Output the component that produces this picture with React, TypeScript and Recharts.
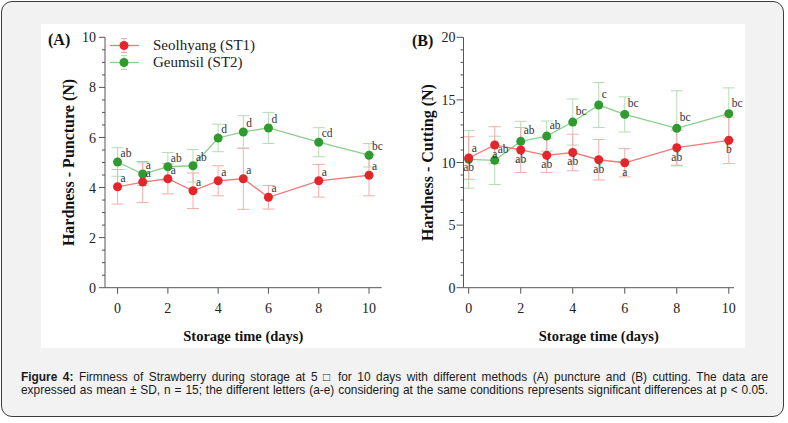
import React from 'react';
import { LineChart, Line, XAxis, YAxis, ErrorBar, LabelList, Legend, Label } from 'recharts';

// ---------- data ----------
const days = [0, 1, 2, 3, 4, 5, 6, 8, 10];
const dayTicks = [0, 2, 4, 6, 8, 10];

const seriesNames = ['Seolhyang (ST1)', 'Geumsil (ST2)'];

const punctureST1 = [4.03, 4.22, 4.35, 3.87, 4.27, 4.35, 3.61, 4.27, 4.49];
const punctureST1Sd = [0.69, 0.82, 0.6, 0.71, 0.6, 1.22, 0.47, 0.65, 0.82];
const punctureST1Letters = ['a', 'a', 'a', 'a', 'a', 'a', 'a', 'a', 'a'];
const punctureST2 = [5.02, 4.54, 4.83, 4.87, 5.98, 6.22, 6.38, 5.81, 5.29];
const punctureST2Sd = [0.57, 0.45, 0.57, 0.65, 0.55, 0.65, 0.62, 0.58, 0.47];
const punctureST2Letters = ['ab', 'a', 'ab', 'ab', 'd', 'd', 'd', 'cd', 'bc'];

const cuttingST1 = [10.36, 11.4, 11.0, 10.57, 10.8, 10.22, 9.98, 11.18, 11.77];
const cuttingST1Sd = [1.7, 1.46, 1.8, 1.37, 1.46, 1.62, 1.13, 1.4, 1.86];
const cuttingST1Letters = ['ab', 'a', 'ab', 'ab', 'ab', 'ab', 'a', 'ab', 'b'];
const cuttingST2 = [10.25, 10.17, 11.69, 12.11, 13.23, 14.59, 13.84, 12.73, 13.9];
const cuttingST2Sd = [2.3, 1.93, 1.6, 1.2, 1.84, 1.8, 1.4, 3.0, 2.06];
const cuttingST2Letters = ['a', 'ab', 'ab', 'ab', 'bc', 'c', 'bc', 'bc', 'bc'];

const punctureYTicks = [0, 0.5, 1, 1.5, 2, 2.5, 3, 3.5, 4, 4.5, 5, 5.5, 6, 6.5, 7, 7.5, 8, 8.5, 9, 9.5, 10];
const punctureYMajor = [0, 2, 4, 6, 8, 10];
const cuttingYTicks = [0, 1, 2, 3, 4, 5, 6, 7, 8, 9, 10, 11, 12, 13, 14, 15, 16, 17, 18, 19, 20];
const cuttingYMajor = [0, 5, 10, 15, 20];

const captionBold = 'Figure 4:';
const captionLine1 =
  ' Firmness of Strawberry during storage at 5 \u25A1 for 10 days with different methods (A) puncture and (B) cutting. The data are';
const captionLine2 =
  'expressed as mean \u00B1 SD, n = 15; the different letters (a-e) considering at the same conditions represents significant differences at p < 0.05.';

// ---------- styles ----------
const SERIF = '"Liberation Serif", "Times New Roman", serif';
const SANS = '"Liberation Sans", Arial, sans-serif';
const AXIS = '#555555';
const RED = '#e3262c';
const RED_LINE = '#f07a7a';
const RED_ERR = '#f4adad';
const GREEN = '#2f9a2f';
const GREEN_LINE = '#8ccf8c';
const GREEN_ERR = '#b3ddb3';

const buildRows = (
  a: number[], aSd: number[], aLab: string[],
  b: number[], bSd: number[], bLab: string[]
) =>
  days.map((day, i) => ({
    day,
    st1: a[i], st1Sd: aSd[i], st1Lab: aLab[i],
    st2: b[i], st2Sd: bSd[i], st2Lab: bLab[i],
  }));

const punctureRows = buildRows(
  punctureST1, punctureST1Sd, punctureST1Letters,
  punctureST2, punctureST2Sd, punctureST2Letters
);
const cuttingRows = buildRows(
  cuttingST1, cuttingST1Sd, cuttingST1Letters,
  cuttingST2, cuttingST2Sd, cuttingST2Letters
);

const makeYTick = (majors: number[], size: number, margin: number) => (props: any) => {
  const { x, y, payload } = props;
  const axisX = x + size + margin;
  const isMajor = majors.includes(payload.value);
  return (
    <g>
      <line x1={axisX} x2={axisX - (isMajor ? size : 3)} y1={y} y2={y} stroke={AXIS} strokeWidth={1} />
      {isMajor && (
        <text x={x} y={y} dy="0.36em" textAnchor="end" style={{ fontFamily: SERIF, fontSize: 14 }} fill="#222">
          {payload.value}
        </text>
      )}
    </g>
  );
};

const XTick = (props: any) => {
  const { x, y, payload } = props;
  return (
    <text x={x} y={y} dy="0.71em" textAnchor="middle" style={{ fontFamily: SERIF, fontSize: 14 }} fill="#222">
      {payload.value}
    </text>
  );
};

const pos = (props: any) => {
  const x = props.x ?? props.viewBox?.x;
  const y = props.y ?? props.viewBox?.y;
  return { x, y };
};

const letterStyle = { fontFamily: SERIF, fontSize: 11.5 };

const aboveRight = (dx: number, dy: number) => (props: any) => {
  const { x, y } = pos(props);
  return (
    <text x={x + dx} y={y + dy} style={letterStyle} fill="#333">
      {props.value}
    </text>
  );
};

const belowCenter = (props: any) => {
  const { x, y } = pos(props);
  return (
    <text x={x} y={y + 13} textAnchor="middle" style={letterStyle} fill="#333">
      {props.value}
    </text>
  );
};

const yTitle = (text: string, cx: number) => (props: any) => {
  const vb = props.viewBox;
  const x = vb.x + cx;
  const y = vb.y + vb.height / 2;
  return (
    <text
      x={x}
      y={y}
      dy="0.35em"
      textAnchor="middle"
      transform={`rotate(-90 ${x} ${y})`}
      style={{ fontFamily: SERIF, fontSize: 16, fontWeight: 'bold' }}
      fill="#111"
    >
      {text}
    </text>
  );
};

const xTitle = (text: string) => (props: any) => {
  const vb = props.viewBox;
  return (
    <text
      x={vb.x + vb.width / 2}
      y={vb.y + 53}
      textAnchor="middle"
      style={{ fontFamily: SERIF, fontSize: 14.5, fontWeight: 'bold' }}
      fill="#111"
    >
      {text}
    </text>
  );
};

const legendColors = [
  { line: RED_LINE, dot: RED, err: RED_ERR },
  { line: GREEN_LINE, dot: GREEN, err: GREEN_ERR },
];

const LegendContent = () => (
  <div style={{ display: 'flex', flexDirection: 'column' }}>
    {seriesNames.map((name, i) => (
      <div key={name} style={{ display: 'flex', alignItems: 'center', height: 17.3 }}>
        <svg width={30} height={17} style={{ display: 'block' }}>
          <line x1={0} x2={29} y1={8.5} y2={8.5} stroke={legendColors[i].line} strokeWidth={1.3} />
          <line x1={14} x2={14} y1={1.5} y2={15.5} stroke={legendColors[i].err} strokeWidth={1} />
          <line x1={11} x2={17} y1={1.5} y2={1.5} stroke={legendColors[i].err} strokeWidth={1} />
          <line x1={11} x2={17} y1={15.5} y2={15.5} stroke={legendColors[i].err} strokeWidth={1} />
          <circle cx={14} cy={8.5} r={4.5} fill={legendColors[i].dot} />
        </svg>
        <span
          style={{
            marginLeft: 13,
            fontFamily: SERIF,
            fontSize: 15,
            color: '#222',
            whiteSpace: 'nowrap',
            lineHeight: '17px',
          }}
        >
          {name}
        </span>
      </div>
    ))}
  </div>
);

type PanelProps = {
  rows: any[];
  yDomain: [number, number];
  yTicks: number[];
  yMajor: number[];
  xDomain: [number, number];
  yAxisWidth: number;
  rightMargin: number;
  tickSize: number;
  tickMargin: number;
  yLabel: string;
  yTitleX: number;
  redBelow: boolean;
  showLegend: boolean;
};

const Panel = (p: PanelProps) => (
  <LineChart
    width={352}
    height={324}
    data={p.rows}
    margin={{ top: 13.3, right: p.rightMargin, bottom: 0, left: 0 }}
  >
    <XAxis
      dataKey="day"
      type="number"
      domain={p.xDomain}
      ticks={dayTicks}
      interval={0}
      allowDataOverflow
      height={60.3}
      tickSize={6}
      tickMargin={9}
      axisLine={{ stroke: AXIS, strokeWidth: 1 }}
      tickLine={{ stroke: AXIS, strokeWidth: 1 }}
      tick={XTick}
    >
      <Label content={xTitle('Storage time (days)')} />
    </XAxis>
    <YAxis
      type="number"
      domain={p.yDomain}
      ticks={p.yTicks}
      interval={0}
      allowDataOverflow
      width={p.yAxisWidth}
      tickSize={p.tickSize}
      tickMargin={p.tickMargin}
      axisLine={{ stroke: AXIS, strokeWidth: 1 }}
      tickLine={false}
      tick={makeYTick(p.yMajor, p.tickSize, p.tickMargin)}
    >
      <Label content={yTitle(p.yLabel, p.yTitleX)} />
    </YAxis>
    {p.showLegend && (
      <Legend
        layout="vertical"
        align="center"
        verticalAlign="middle"
        content={<LegendContent />}
        wrapperStyle={{ position: 'absolute', left: 69, top: 12.5, width: 'auto', height: 'auto' }}
      />
    )}
    <Line
      dataKey="st2"
      name={seriesNames[1]}
      stroke={GREEN_LINE}
      strokeWidth={1.3}
      dot={{ r: 4.5, fill: GREEN, stroke: GREEN, strokeWidth: 0 }}
      activeDot={false}
      isAnimationActive={false}
    >
      <ErrorBar dataKey="st2Sd" width={6} stroke={GREEN_ERR} strokeWidth={1} direction="y" />
      <LabelList dataKey="st2Lab" content={aboveRight(3, p.redBelow ? -7 : -5)} />
    </Line>
    <Line
      dataKey="st1"
      name={seriesNames[0]}
      stroke={RED_LINE}
      strokeWidth={1.3}
      dot={{ r: 4.5, fill: RED, stroke: RED, strokeWidth: 0 }}
      activeDot={false}
      isAnimationActive={false}
    >
      <ErrorBar dataKey="st1Sd" width={6} stroke={RED_ERR} strokeWidth={1} direction="y" />
      <LabelList dataKey="st1Lab" content={p.redBelow ? belowCenter : aboveRight(3, -5)} />
    </Line>
  </LineChart>
);

const captionStyle: React.CSSProperties = {
  position: 'absolute',
  left: 21,
  width: 747,
  fontFamily: SANS,
  fontSize: 11.9,
  lineHeight: '13px',
  color: '#1a1a1a',
  textAlign: 'justify',
  textAlignLast: 'justify' as any,
  whiteSpace: 'nowrap',
};

export default function App() {
  return (
    <div
      style={{
        position: 'absolute',
        left: 0,
        top: 0,
        width: 788,
        height: 423,
        background: '#ffffff',
        overflow: 'hidden',
      }}
    >
      <div
        style={{
          position: 'absolute',
          left: 1,
          top: 1,
          width: 781,
          height: 414,
          border: '1.5px solid #3c3c3c',
          borderRadius: 11,
          background: '#f2f2f2',
        }}
      />
      <div
        style={{
          position: 'absolute',
          left: 41,
          top: 24,
          width: 704,
          height: 324,
          background: '#ffffff',
        }}
      />
      <div style={{ position: 'absolute', left: 41, top: 24 }}>
        <Panel
          rows={punctureRows}
          yDomain={[0, 10]}
          yTicks={punctureYTicks}
          yMajor={punctureYMajor}
          xDomain={[-0.5, 10.5]}
          yAxisWidth={64}
          rightMargin={11.4}
          tickSize={6}
          tickMargin={3}
          yLabel="Hardness - Puncture (N)"
          yTitleX={27.3}
          redBelow={false}
          showLegend={true}
        />
      </div>
      <div style={{ position: 'absolute', left: 393, top: 24 }}>
        <Panel
          rows={cuttingRows}
          yDomain={[0, 20]}
          yTicks={cuttingYTicks}
          yMajor={cuttingYMajor}
          xDomain={[-0.2, 10.2]}
          yAxisWidth={70.5}
          rightMargin={11}
          tickSize={7}
          tickMargin={1}
          yLabel="Hardness - Cutting (N)"
          yTitleX={34.5}
          redBelow={true}
          showLegend={false}
        />
      </div>
      <div
        style={{
          position: 'absolute',
          left: 48,
          top: 31.6,
          fontFamily: SERIF,
          fontWeight: 'bold',
          fontSize: 16,
          lineHeight: '16px',
          color: '#111',
        }}
      >
        (A)
      </div>
      <div
        style={{
          position: 'absolute',
          left: 412,
          top: 32.6,
          fontFamily: SERIF,
          fontWeight: 'bold',
          fontSize: 16,
          lineHeight: '16px',
          color: '#111',
        }}
      >
        (B)
      </div>
      <div style={{ ...captionStyle, top: 370.5 }}>
        <b>{captionBold}</b>
        {captionLine1}
      </div>
      <div style={{ ...captionStyle, top: 383.5 }}>{captionLine2}</div>
    </div>
  );
}
